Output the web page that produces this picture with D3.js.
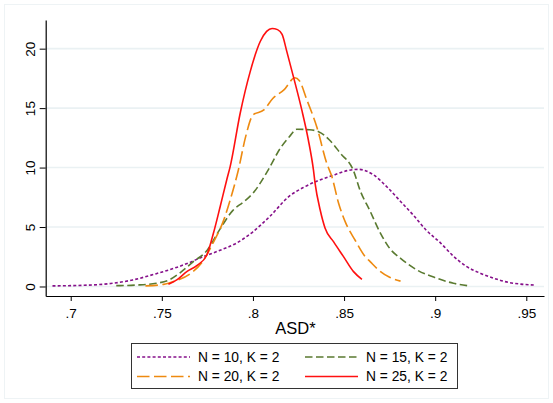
<!DOCTYPE html>
<html>
<head>
<meta charset="utf-8">
<script src="https://cdn.jsdelivr.net/npm/d3@7"></script>
<style>
  html, body { margin: 0; padding: 0; background: #fff; }
  svg { display: block; font-family: "Liberation Sans", Arial, sans-serif; }
</style>
</head>
<body>
<svg id="chart" width="553" height="403"></svg>
<script>
// Kernel density estimates of ASD* for different sample sizes (K = 2)
const asdN10 = [
  [0.690, 0.05], [0.707, 0.10], [0.722, 0.25], [0.734, 0.55], [0.747, 1.08],
  [0.758, 1.60], [0.765, 2.00], [0.771, 2.40], [0.782, 3.05], [0.791, 3.65],
  [0.800, 4.60], [0.809, 5.85], [0.820, 7.60], [0.828, 8.35], [0.835, 8.85],
  [0.845, 9.40], [0.852, 9.75], [0.858, 9.85], [0.866, 9.40], [0.874, 8.30],
  [0.881, 7.15], [0.888, 6.00], [0.895, 4.75], [0.903, 3.65], [0.910, 2.55],
  [0.917, 1.70], [0.925, 1.10], [0.934, 0.60], [0.940, 0.35], [0.947, 0.20],
  [0.955, 0.12]
];
const asdN15 = [
  [0.725, 0.07], [0.736, 0.12], [0.747, 0.27], [0.754, 0.55], [0.760, 1.15],
  [0.767, 2.05], [0.775, 3.07], [0.782, 4.85], [0.789, 6.40], [0.795, 7.13],
  [0.800, 7.84], [0.808, 9.70], [0.815, 11.62], [0.820, 12.60], [0.824, 13.22],
  [0.831, 13.18], [0.836, 13.02], [0.842, 12.32], [0.848, 11.20], [0.855, 9.80],
  [0.859, 8.00], [0.864, 6.43], [0.870, 4.47], [0.875, 3.21], [0.881, 2.37],
  [0.890, 1.39], [0.901, 0.69], [0.910, 0.27], [0.919, 0.04]
];
const asdN20 = [
  [0.741, 0.05], [0.751, 0.18], [0.756, 0.40], [0.766, 1.11], [0.773, 2.23],
  [0.778, 3.63], [0.784, 5.60], [0.7875, 7.27], [0.792, 9.80], [0.796, 12.60],
  [0.800, 14.42], [0.806, 14.85], [0.811, 15.83], [0.817, 16.53], [0.823, 17.55],
  [0.8255, 17.30], [0.8296, 15.69], [0.835, 13.44], [0.8405, 10.36], [0.8433, 9.24],
  [0.847, 7.00], [0.8506, 5.45], [0.856, 3.91], [0.8616, 2.51], [0.8643, 2.09],
  [0.870, 1.25], [0.875, 0.77], [0.881, 0.45]
];
const asdN25 = [
  [0.7536, 0.18], [0.7582, 0.55], [0.7637, 1.25], [0.7692, 1.75], [0.7747, 2.65],
  [0.7783, 4.47], [0.782, 6.71], [0.7856, 8.96], [0.7875, 10.08], [0.793, 14.57],
  [0.7985, 18.07], [0.804, 20.60], [0.8075, 21.45], [0.8105, 21.70], [0.8135, 21.60],
  [0.8160, 21.20], [0.8186, 19.75], [0.8222, 17.65], [0.8268, 14.85], [0.8304, 12.32],
  [0.8332, 9.80], [0.8341, 8.68], [0.8369, 6.43], [0.8396, 4.90], [0.8442, 3.77],
  [0.8497, 2.51], [0.8552, 1.25], [0.8598, 0.60]
];

const xTicks = [0.7, 0.75, 0.8, 0.85, 0.9, 0.95];
const xTickLabels = [".7", ".75", ".8", ".85", ".9", ".95"];
const yTicks = [0, 5, 10, 15, 20];
const seriesLabels = ["N = 10, K = 2", "N = 15, K = 2", "N = 20, K = 2", "N = 25, K = 2"];
const xTitle = "ASD*";

const seriesData = [asdN10, asdN15, asdN20, asdN25];
const seriesStyle = [
  { color: "#86108a", dash: "3,2.2" },
  { color: "#5a7a30", dash: "7.5,3.5" },
  { color: "#ee8a10", dash: "12.5,4.5" },
  { color: "#ff1010", dash: null }
];

const svg = d3.select("#chart");
const plotLeft = 45.7, plotRight = 544, plotTop = 20, plotBottom = 296;

const x = d3.scaleLinear().domain([0.68628, 0.95971]).range([plotLeft, plotRight]);
const y = d3.scaleLinear().domain([-0.8, 22.41]).range([plotBottom, plotTop]);

// outer graph region frame
svg.append("rect")
  .attr("x", 4.5).attr("y", 4.5).attr("width", 544).attr("height", 394)
  .attr("fill", "none").attr("stroke", "#eef3f5").attr("stroke-width", 1);

// horizontal grid
svg.append("g").selectAll("line").data(yTicks).join("line")
  .attr("x1", plotLeft).attr("x2", plotRight)
  .attr("y1", d => y(d)).attr("y2", d => y(d))
  .attr("stroke", "#eaf1f3").attr("stroke-width", 1.6);

// density curves
const line = d3.line()
  .x(d => x(d[0])).y(d => y(d[1]))
  .curve(d3.curveMonotoneX);

svg.append("g").selectAll("path").data(seriesData).join("path")
  .attr("d", line)
  .attr("fill", "none")
  .attr("stroke", (d, i) => seriesStyle[i].color)
  .attr("stroke-width", 1.6)
  .attr("stroke-dasharray", (d, i) => seriesStyle[i].dash)
  .attr("stroke-linejoin", "round");

// x axis
const xAxis = d3.axisBottom(x).tickValues(xTicks)
  .tickFormat((d, i) => xTickLabels[i]).tickSize(5).tickPadding(4).tickSizeOuter(0);
const gx = svg.append("g").attr("transform", `translate(0,${plotBottom})`).call(xAxis);
gx.select(".domain").attr("stroke", "#000").attr("stroke-width", 1.2);
gx.selectAll(".tick line").attr("stroke", "#000");
gx.selectAll(".tick text")
  .attr("font-size", 13.5).attr("fill", "#000")
  .attr("font-family", "'Liberation Sans', Arial, sans-serif")
  .attr("dy", null).attr("y", 22);

// y axis with rotated labels
const yAxis = d3.axisLeft(y).tickValues(yTicks).tickSize(6).tickSizeOuter(0).tickFormat(d3.format("d"));
const gy = svg.append("g").attr("transform", `translate(${plotLeft},0)`).call(yAxis);
gy.select(".domain").attr("stroke", "#000").attr("stroke-width", 1.2);
gy.selectAll(".tick line").attr("stroke", "#000");
gy.selectAll(".tick text")
  .attr("font-size", 13.5).attr("fill", "#000")
  .attr("font-family", "'Liberation Sans', Arial, sans-serif")
  .attr("x", null).attr("dy", null)
  .attr("text-anchor", "middle")
  .attr("transform", "translate(-11,0) rotate(-90)");

// x axis title
svg.append("text")
  .attr("x", (275 + 316) / 2).attr("y", 333.5)
  .attr("text-anchor", "middle")
  .attr("font-size", 16.5).attr("fill", "#000")
  .text(xTitle);

// legend
const legend = svg.append("g");
legend.append("rect")
  .attr("x", 131.5).attr("y", 343.5).attr("width", 326).attr("height", 45)
  .attr("fill", "#fff").attr("stroke", "#333").attr("stroke-width", 1);

const legendPos = [
  { lx: 137, ly: 357 }, { lx: 305, ly: 357 },
  { lx: 137, ly: 376.5 }, { lx: 305, ly: 376.5 }
];
const items = legend.selectAll("g.item").data(seriesLabels).join("g").attr("class", "item");
items.append("line")
  .attr("x1", (d, i) => legendPos[i].lx).attr("x2", (d, i) => legendPos[i].lx + 53)
  .attr("y1", (d, i) => legendPos[i].ly).attr("y2", (d, i) => legendPos[i].ly)
  .attr("stroke", (d, i) => seriesStyle[i].color)
  .attr("stroke-width", 1.6)
  .attr("stroke-dasharray", (d, i) => seriesStyle[i].dash);
items.append("text")
  .attr("x", (d, i) => legendPos[i].lx + 61)
  .attr("y", (d, i) => legendPos[i].ly + 4.6)
  .attr("font-size", 13.8).attr("fill", "#000")
  .text(d => d);
</script>
</body>
</html>
